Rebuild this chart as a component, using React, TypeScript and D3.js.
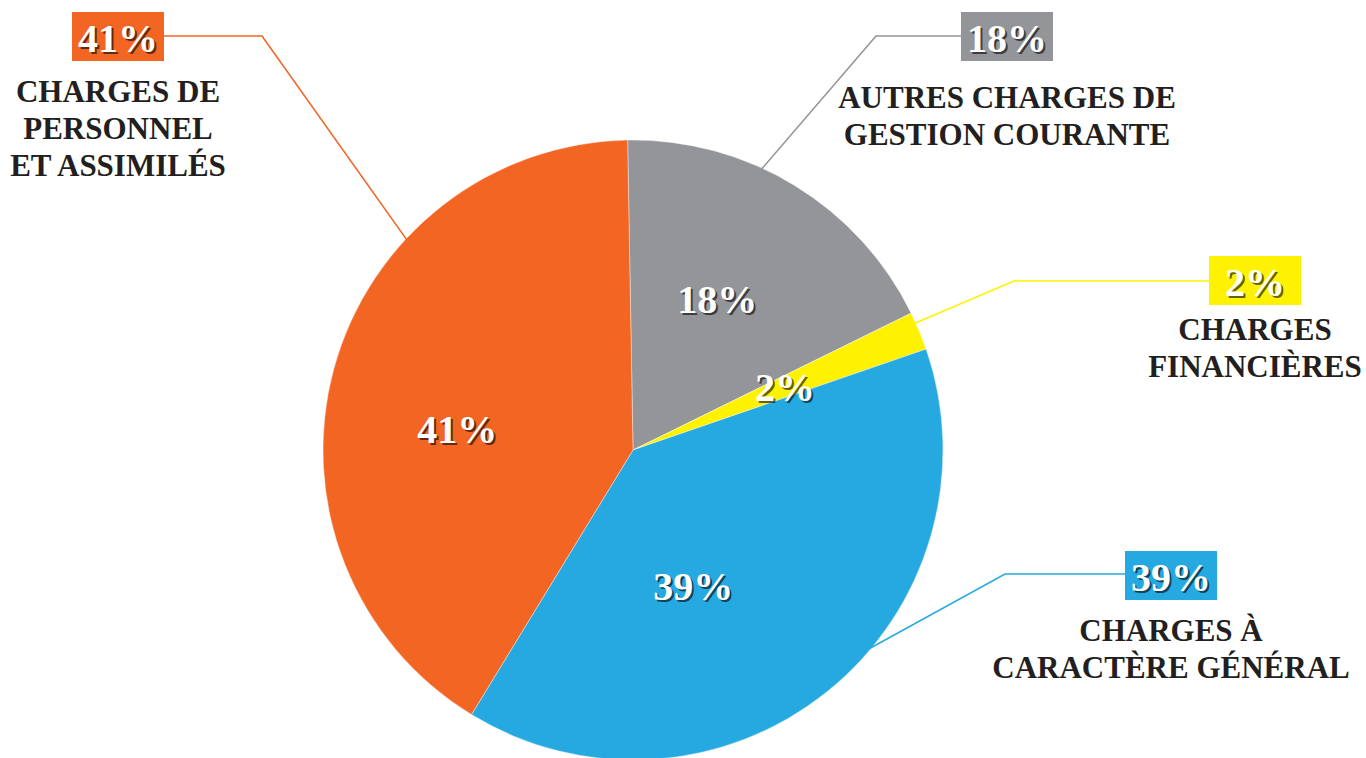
import React, { useEffect } from 'react';
import * as d3 from 'd3';

// slices, clockwise from 12 o'clock
const categories = ['autres', 'financieres', 'general', 'personnel'];
const values = [18, 2, 39, 41];
const colors = ['#939598', '#FFF200', '#26A9E0', '#F26522'];
const labelLines = [
  ['AUTRES CHARGES DE', 'GESTION COURANTE'],
  ['CHARGES', 'FINANCIÈRES'],
  ['CHARGES À', 'CARACTÈRE GÉNÉRAL'],
  ['CHARGES DE', 'PERSONNEL', 'ET ASSIMILÉS'],
];

// layout only: inner label polar position, callout box + elbow + leader angle
const innerPos = [
  { a: 29, r: 174 },
  { a: 67, r: 165 },
  { a: 156, r: 148 },
  { a: 277, r: 177 },
];
const callouts = [
  { bx: 961, by: 12, ex: 876, ey: 36, a: 24.6, side: 'left', base: 108 },
  { bx: 1209, by: 256, ex: 1014, ey: 281, a: 65.8, side: 'left', base: 340 },
  { bx: 1125, by: 551, ex: 1005, ey: 574, a: 129.9, side: 'left', base: 641 },
  { bx: 72, by: 12, ex: 262, ey: 36, a: 312.9, side: 'right', base: 102 },
];

const W = 1366, H = 758;
const cx = 633, cy = 450, R = 310;
const rot = -1; // degrees, slight rotation of the pie start
const boxW = 92, boxH = 49;
const font = '"Liberation Serif", "Times New Roman", serif';

const ShadowText = ({ x, y, text, size }: any) => (
  <g fontFamily={font} fontWeight="bold" fontSize={size} textAnchor="middle">
    <text x={x + 2} y={y + 2} fill="rgba(0,0,0,0.6)">{text}</text>
    <text x={x} y={y} fill="#fff">{text}</text>
  </g>
);

export default function App() {
  useEffect(() => {
    document.body.style.margin = '0';
  }, []);

  const rad = (deg: number) => (deg * Math.PI) / 180;
  const pie = d3.pie<number>().sort(null).value(d => d).startAngle(rad(rot)).endAngle(rad(rot) + 2 * Math.PI);
  const arcs = pie(values);
  const arc = d3.arc<d3.PieArcDatum<number>>().innerRadius(0).outerRadius(R);
  const polar = (deg: number, r: number) => [cx + r * Math.sin(rad(deg)), cy - r * Math.cos(rad(deg))];

  return (
    <svg width={W} height={H} style={{ display: 'block', background: '#fff' }}>
      <g transform={`translate(${cx},${cy})`}>
        {arcs.map((d, i) => (
          <path key={categories[i]} d={arc(d) || ''} fill={colors[i]} stroke="#fff" strokeWidth={0.4} />
        ))}
      </g>
      {arcs.map((d, i) => {
        const [x, y] = polar(innerPos[i].a, innerPos[i].r);
        return <ShadowText key={'in' + i} x={x} y={y + 15} text={values[i] + '%'} size={40} />;
      })}
      {callouts.map((c, i) => {
        const [px, py] = polar(c.a, R - 1);
        const sx = c.side === 'left' ? c.bx : c.bx + boxW;
        const mid = c.bx + boxW / 2;
        return (
          <g key={'co' + i}>
            <polyline
              points={`${sx},${c.ey} ${c.ex},${c.ey} ${px},${py}`}
              fill="none"
              stroke={colors[i]}
              strokeWidth={1.6}
            />
            <rect x={c.bx} y={c.by} width={boxW} height={boxH} fill={colors[i]} />
            <ShadowText x={mid} y={c.by + 40} text={values[i] + '%'} size={40} />
            <text fontFamily={font} fontWeight="bold" fontSize={31} fill="#231F20" textAnchor="middle">
              {labelLines[i].map((t, j) => (
                <tspan key={j} x={mid} y={c.base + j * 37}>{t}</tspan>
              ))}
            </text>
          </g>
        );
      })}
    </svg>
  );
}
